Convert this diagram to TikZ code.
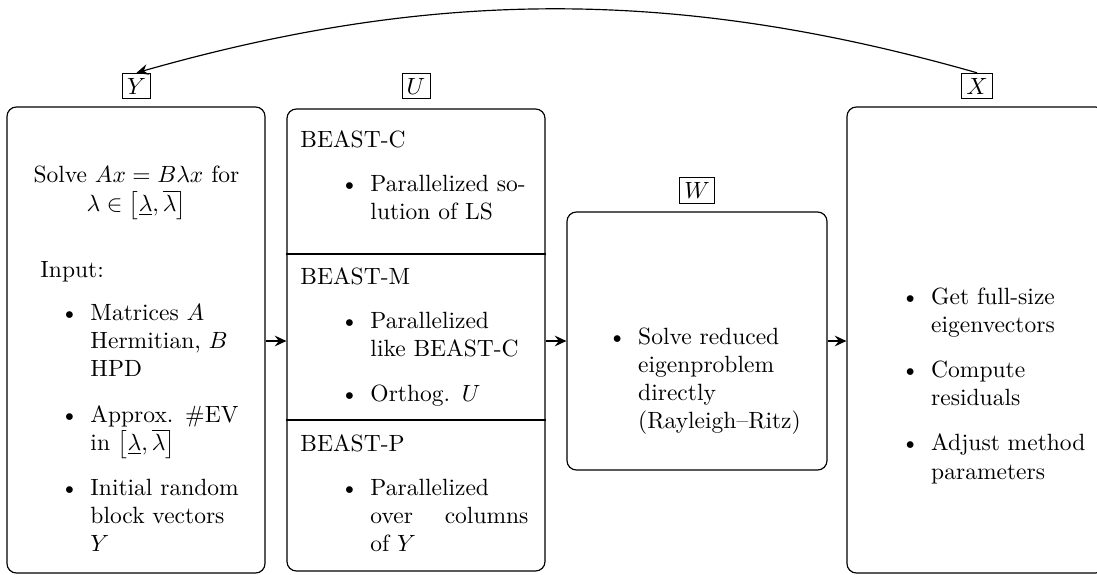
\documentclass[tikz,border=0pt]{standalone}
\usetikzlibrary{arrows.meta}

% one drawing unit
\newdimen\pxu
\pxu=0.4255pt

% bullet list with adjustable indent (#2) and top space (#1)
\newenvironment{dotlist}[2][6.5pt]{%
  \begin{list}{\textbullet}{%
    \setlength{\leftmargin}{#2}%
    \setlength{\labelsep}{5pt}%
    \setlength{\labelwidth}{\dimexpr#2-5pt\relax}%
    \setlength{\itemsep}{7.2pt}%
    \setlength{\parsep}{0pt}%
    \setlength{\topsep}{#1}%
    \setlength{\partopsep}{0pt}}}%
  {\end{list}}

\tikzset{
  stage/.style={draw, rounded corners=4pt, inner sep=0pt, line width=0.5pt},
  txt/.style={inner sep=0pt, anchor=base west, text width=#1},
  tag/.style={draw, inner sep=2pt, line width=0.4pt},
  flow/.style={-{Stealth[length=5pt, width=4.6pt, inset=1.8pt]}, line width=0.5pt},
}

\begin{document}
\begin{tikzpicture}[x=0.4255pt, y=-0.4255pt]
\useasboundingbox (0,0) rectangle (1097,575);

% the four stages
\node[stage, minimum width=258\pxu, minimum height=466\pxu] (inp) at (136,340) {};
\node[stage, minimum width=258\pxu, minimum height=462\pxu] (mid) at (416,340) {};
\node[stage, minimum width=260\pxu, minimum height=258\pxu] (ritz) at (697,341) {};
\node[stage, minimum width=258\pxu, minimum height=466\pxu] (post) at (976,340) {};

% sections of the middle stage
\coordinate (cut1) at (0,254);
\coordinate (cut2) at (0,420);
\draw[line width=0.5pt] (mid.west |- cut1) -- (mid.east |- cut1);
\draw[line width=0.5pt] (mid.west |- cut2) -- (mid.east |- cut2);

% block-vector tags
\node[tag] (yl) at (136.5,86) {$Y$};
\node[tag] (ul) at (416,86) {$U$};
\node[tag] (wl) at (697,190.5) {$W$};
\node[tag] (xl) at (977,86) {$X$};

% contents
\node[txt=220\pxu] (inptxt) at (26,183) {%
  {\centering Solve $Ax=B\lambda x$ for\\
   $\lambda\in\left[\underline{\lambda},\overline{\lambda}\right]$\par}
  \vspace{16pt}
  \hspace*{14\pxu}Input:
  \begin{dotlist}{64\pxu}
    \item Matrices $A$\\ Hermitian, $B$\\ HPD
    \item Approx. \#EV\\ in $\left[\underline{\lambda},\overline{\lambda}\right]$
    \item Initial random\\ block vectors\\ $Y$
  \end{dotlist}};

\node[txt=228\pxu] (beastc) at (300,148) {%
  BEAST-C
  \begin{dotlist}{70\pxu}
    \item Parallelized so-\\lution of LS
  \end{dotlist}};

\node[txt=228\pxu] (beastm) at (300,285) {%
  BEAST-M
  \begin{dotlist}{70\pxu}
    \item Parallelized\\ like BEAST-C
    \item Orthog. $U$
  \end{dotlist}};

\node[txt=228\pxu] (beastp) at (300,452) {%
  BEAST-P
  \begin{dotlist}{70\pxu}
    \item Parallelized\\ over\hfill columns\\ of $Y$
  \end{dotlist}};

\node[txt=230\pxu] (ritztxt) at (579,316) {%
  \begin{dotlist}[0pt]{58.75\pxu}
    \item Solve reduced\\ eigenproblem\\ directly\\ (Rayleigh--Ritz)
  \end{dotlist}};

\node[txt=220\pxu] (posttxt) at (872,276) {%
  \begin{dotlist}[0pt]{58.75\pxu}
    \item Get full-size\\ eigenvectors
    \item Compute\\ residuals
    \item Adjust method\\ parameters
  \end{dotlist}};

% data flow
\draw[flow] (inp.east |- ritz.west) -- (mid.west |- ritz.west);
\draw[flow] (mid.east |- ritz.west) -- (ritz.west);
\draw[flow] (ritz.east) -- (post.west |- ritz.east);
\draw[flow] (xl.north) .. controls +(-298,-85) and +(298,-85) .. (yl.north);
\end{tikzpicture}
\end{document}
